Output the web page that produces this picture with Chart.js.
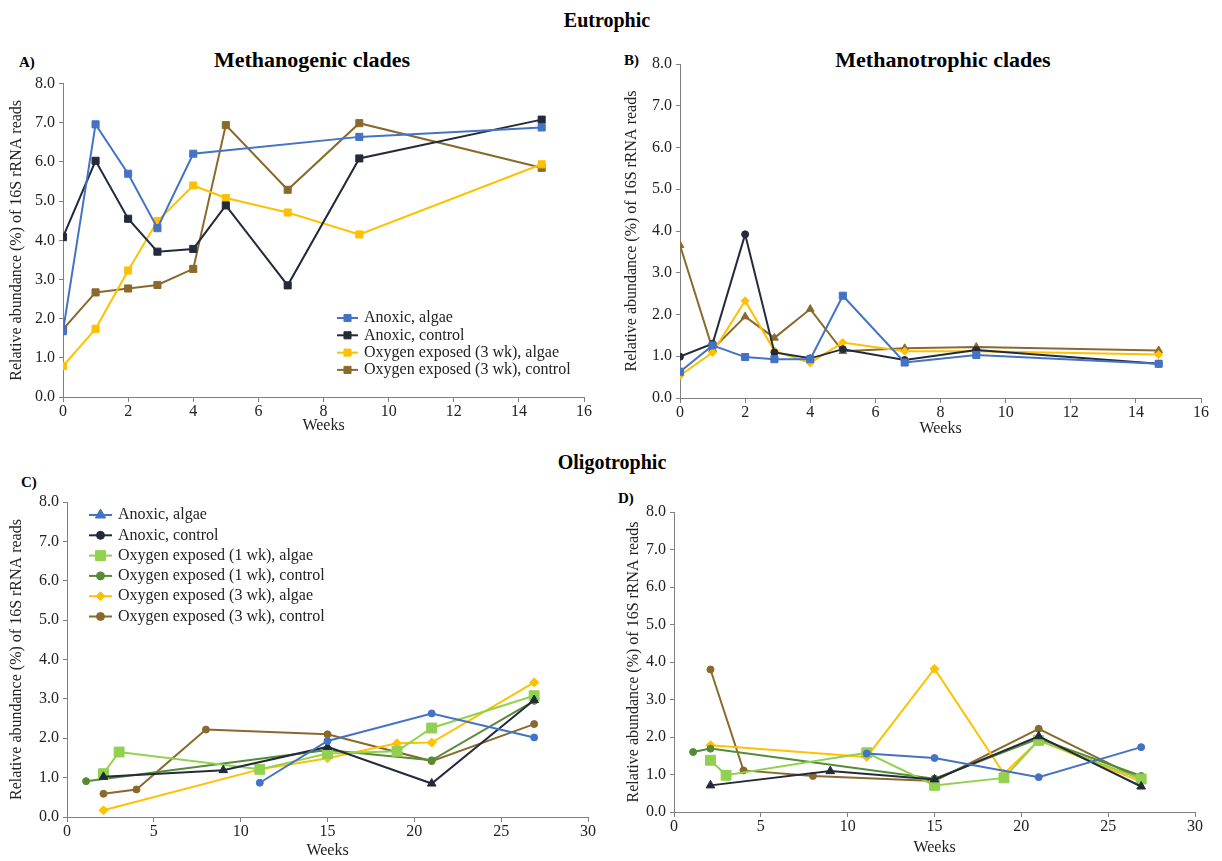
<!DOCTYPE html>
<html>
<head>
<meta charset="utf-8">
<script src="https://cdn.jsdelivr.net/npm/chart.js@4.4.0/dist/chart.umd.min.js"></script>
<style>
  body { margin: 0; background: #fff; width: 1222px; height: 861px; position: relative; overflow: hidden;
         font-family: "Liberation Serif", "Times New Roman", serif; color: #000; }
  .box { position: absolute; }
  .head { position: absolute; font-weight: bold; white-space: nowrap; transform: translate(-50%, -50%); }
  .tag { position: absolute; font-weight: bold; font-size: 15px; transform: translateY(-50%); }
</style>
</head>
<body>
<div class="head" style="left:607px;top:20px;font-size:20px">Eutrophic</div>
<div class="head" style="left:612px;top:462px;font-size:20px">Oligotrophic</div>
<div class="head" style="left:312px;top:60px;font-size:22px">Methanogenic clades</div>
<div class="head" style="left:943px;top:60px;font-size:22px">Methanotrophic clades</div>
<div class="tag" style="left:19px;top:62px">A)</div>
<div class="tag" style="left:624px;top:60px">B)</div>
<div class="tag" style="left:21px;top:482px">C)</div>
<div class="tag" style="left:618px;top:498px">D)</div>

<div class="box" style="left:0;top:70px"><canvas id="cA" width="610" height="375"></canvas></div>
<div class="box" style="left:610px;top:40px"><canvas id="cB" width="612" height="400"></canvas></div>
<div class="box" style="left:0;top:480px"><canvas id="cC" width="610" height="381"></canvas></div>
<div class="box" style="left:610px;top:480px"><canvas id="cD" width="612" height="381"></canvas></div>

<script>
// sampling times (weeks)
const weeksEu = [0, 1, 2, 2.9, 4, 5, 6.9, 9.1, 14.7];
const weeksOl = [1.1, 2.1, 3, 4, 8, 9, 11.1, 15, 19, 21, 26.9];
const yTicks = [0, 1, 2, 3, 4, 5, 6, 7, 8];

// A) eutrophic, methanogenic clades
const aAnoxAlgae   = [1.68, 6.96, 5.70, 4.31, 6.21, null, null, 6.64, 6.88];
const aAnoxControl = [4.08, 6.03, 4.55, 3.71, 3.78, 4.89, 2.85, 6.09, 7.08];
const aOx3Algae    = [0.79, 1.74, 3.23, 4.49, 5.40, 5.08, 4.71, 4.15, 5.94];
const aOx3Control  = [1.73, 2.67, 2.77, 2.86, 3.27, 6.94, 5.29, 6.99, 5.85];

// B) eutrophic, methanotrophic clades
const bAnoxAlgae   = [0.63, 1.26, 0.98, 0.93, 0.93, 2.45, 0.85, 1.03, 0.82];
const bAnoxControl = [0.99, 1.30, 3.92, 1.09, 0.95, 1.17, 0.91, 1.15, 0.82];
const bOx3Algae    = [0.54, 1.09, 2.33, 1.13, 0.84, 1.33, 1.12, 1.12, 1.04];
const bOx3Control  = [3.66, 1.17, 1.95, 1.44, 2.13, 1.12, 1.19, 1.22, 1.14];

// C) oligotrophic, methanogenic clades
const cAnoxAlgae   = [null, null, null, null, null, null, 0.87, 1.93, null, 2.63, 2.02];
const cAnoxControl = [null, 1.02, null, null, null, 1.19, null, 1.78, null, 0.85, 2.97];
const cOx1Algae    = [null, 1.10, 1.65, null, null, null, 1.21, 1.61, 1.67, 2.26, 3.08];
const cOx1Control  = [0.91, null, null, null, null, null, null, 1.70, null, 1.44, 2.95];
const cOx3Algae    = [null, 0.17, null, null, null, null, 1.21, 1.49, 1.87, 1.89, 3.42];
const cOx3Control  = [null, 0.59, null, 0.70, 2.22, null, null, 2.10, null, 1.42, 2.36];

// D) oligotrophic, methanotrophic clades
const dAnoxAlgae   = [null, null, null, null, null, null, 1.56, 1.44, null, 0.93, 1.73];
const dAnoxControl = [null, 0.71, null, null, null, 1.09, null, 0.87, null, 2.02, 0.68];
const dOx1Algae    = [null, 1.38, 0.98, null, null, null, 1.58, 0.71, 0.91, 1.91, 0.88];
const dOx1Control  = [1.60, 1.69, null, null, null, null, null, 0.89, null, 1.96, 0.96];
const dOx3Algae    = [null, 1.78, null, null, null, null, 1.47, 3.82, 1.02, 1.91, 0.81];
const dOx3Control  = [null, 3.80, null, 1.11, 0.96, null, null, 0.83, null, 2.22, 0.87];

const BLUE = '#4472c4', DARK = '#232b3b', YELLOW = '#ffc000', BROWN = '#8a6a2c',
      LGREEN = '#92d050', GREEN = '#558a36';

const SERIF = '"Liberation Serif", "Times New Roman", serif';
const tickFont = { family: SERIF, size: 16 };
const titleFont = { family: SERIF, size: 16 };

function pts(weeks, vals) {
  const out = [];
  vals.forEach((v, i) => { if (v !== null) out.push({ x: weeks[i], y: v }); });
  return out;
}

function series(label, weeks, vals, color, style, radius, legendStyle, legendRadius) {
  return {
    label, data: pts(weeks, vals),
    borderColor: color, backgroundColor: color,
    pointBackgroundColor: color, pointBorderColor: color,
    pointStyle: style, pointRadius: radius, pointBorderWidth: 1,
    borderWidth: 2, tension: 0,
    legendStyle: legendStyle || style, legendRadius: legendRadius || radius
  };
}

function drawMarker(ctx, style, r, x, y, color) {
  ctx.fillStyle = color;
  ctx.strokeStyle = color;
  ctx.lineWidth = 1;
  if (Chart.helpers && Chart.helpers.drawPoint) {
    Chart.helpers.drawPoint(ctx, { pointStyle: style, radius: r, rotation: 0, borderWidth: 1 }, x, y);
    return;
  }
  ctx.beginPath();
  ctx.arc(x, y, r, 0, Math.PI * 2);
  ctx.fill();
}

// legend drawn inside the plot area
const boxLegend = {
  id: 'boxLegend',
  afterDraw(chart, args, opts) {
    if (!opts || !opts.show) return;
    const ctx = chart.ctx;
    ctx.save();
    ctx.font = '16px ' + SERIF;
    ctx.textBaseline = 'middle';
    chart.data.datasets.forEach((ds, i) => {
      const y = opts.y + i * opts.gap;
      ctx.strokeStyle = ds.borderColor;
      ctx.lineWidth = 2;
      ctx.beginPath();
      ctx.moveTo(opts.x, y);
      ctx.lineTo(opts.x + opts.len, y);
      ctx.stroke();
      drawMarker(ctx, ds.legendStyle, ds.legendRadius, opts.x + opts.len / 2, y, ds.borderColor);
      ctx.fillStyle = '#222';
      ctx.fillText(ds.label, opts.textX, y);
    });
    ctx.restore();
  }
};
Chart.register(boxLegend);

function makeChart(id, datasets, p) {
  return new Chart(document.getElementById(id), {
    type: 'line',
    data: { datasets },
    options: {
      responsive: false,
      animation: false,
      layout: { padding: { left: 6, top: p.top, right: p.right, bottom: p.bottom } },
      plugins: {
        legend: { display: false },
        tooltip: { enabled: false },
        boxLegend: p.legend || { show: false }
      },
      scales: {
        x: {
          type: 'linear', min: 0, max: p.xMax,
          ticks: { stepSize: p.xStep, color: '#222', font: tickFont, padding: 0, maxRotation: 0 },
          grid: { drawOnChartArea: false, tickLength: 5, color: '#808080' },
          border: { color: '#808080', width: 1 },
          title: { display: true, text: 'Weeks', color: '#222', font: titleFont, padding: { top: 0, bottom: p.xTitlePad } },
          afterFit: s => { s.height = p.xH; }
        },
        y: {
          type: 'linear', min: 0, max: 8,
          afterBuildTicks: s => { s.ticks = yTicks.map(v => ({ value: v })); },
          ticks: { color: '#222', font: tickFont, padding: 4, callback: v => Number(v).toFixed(1) },
          grid: { drawOnChartArea: false, tickLength: 4, color: '#808080' },
          border: { color: '#808080', width: 1 },
          title: { display: true, text: 'Relative abundance (%) of 16S rRNA reads', color: '#222', font: titleFont, padding: { top: p.yTitlePad, bottom: 0 } },
          afterFit: s => { s.width = p.yW; }
        }
      }
    }
  });
}

makeChart('cA', [
  series('Anoxic, algae', weeksEu, aAnoxAlgae, BLUE, 'rect', 5),
  series('Anoxic, control', weeksEu, aAnoxControl, DARK, 'rect', 5),
  series('Oxygen exposed (3 wk), algae', weeksEu, aOx3Algae, YELLOW, 'rect', 5),
  series('Oxygen exposed (3 wk), control', weeksEu, aOx3Control, BROWN, 'rect', 5)
], { top: 13, right: 26, bottom: 4, xH: 44, yW: 57, xMax: 16, xStep: 2, xTitlePad: 6, yTitlePad: 1,
     legend: { show: true, x: 337, len: 21, textX: 364, y: 248, gap: 17.3 } });

makeChart('cB', [
  series('Anoxic, algae', weeksEu, bAnoxAlgae, BLUE, 'rect', 5),
  series('Anoxic, control', weeksEu, bAnoxControl, DARK, 'circle', 3.5),
  series('Oxygen exposed (3 wk), algae', weeksEu, bOx3Algae, YELLOW, 'rectRot', 4),
  series('Oxygen exposed (3 wk), control', weeksEu, bOx3Control, BROWN, 'triangle', 4.5)
], { top: 24, right: 21, bottom: 2, xH: 40, yW: 64, xMax: 16, xStep: 2, xTitlePad: 0, yTitlePad: 6 });

makeChart('cC', [
  series('Anoxic, algae', weeksOl, cAnoxAlgae, BLUE, 'circle', 3.5, 'triangle', 6),
  series('Anoxic, control', weeksOl, cAnoxControl, DARK, 'triangle', 5, 'circle', 4),
  series('Oxygen exposed (1 wk), algae', weeksOl, cOx1Algae, LGREEN, 'rect', 7),
  series('Oxygen exposed (1 wk), control', weeksOl, cOx1Control, GREEN, 'circle', 3.5, 'circle', 4),
  series('Oxygen exposed (3 wk), algae', weeksOl, cOx3Algae, YELLOW, 'rectRot', 4.5),
  series('Oxygen exposed (3 wk), control', weeksOl, cOx3Control, BROWN, 'circle', 3.5, 'circle', 4)
], { top: 22, right: 22, bottom: 1, xH: 43, yW: 61, xMax: 30, xStep: 5, xTitlePad: 0, yTitlePad: 1,
     legend: { show: true, x: 89, len: 23, textX: 118, y: 35, gap: 20.3 } });

makeChart('cD', [
  series('Anoxic, algae', weeksOl, dAnoxAlgae, BLUE, 'circle', 3.5),
  series('Anoxic, control', weeksOl, dAnoxControl, DARK, 'triangle', 5),
  series('Oxygen exposed (1 wk), algae', weeksOl, dOx1Algae, LGREEN, 'rect', 7),
  series('Oxygen exposed (1 wk), control', weeksOl, dOx1Control, GREEN, 'circle', 3.5),
  series('Oxygen exposed (3 wk), algae', weeksOl, dOx3Algae, YELLOW, 'rectRot', 4.5),
  series('Oxygen exposed (3 wk), control', weeksOl, dOx3Control, BROWN, 'circle', 3.5)
], { top: 32, right: 27, bottom: 3, xH: 46, yW: 58, xMax: 30, xStep: 5, xTitlePad: 1, yTitlePad: 8 });
</script>
</body>
</html>
